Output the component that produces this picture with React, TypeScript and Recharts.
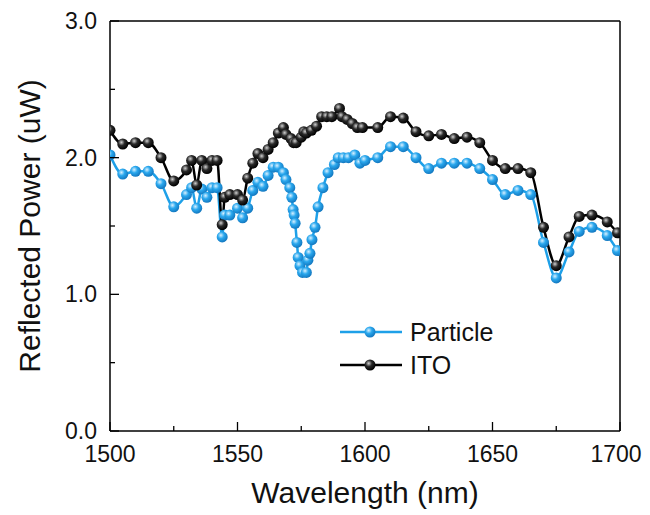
import React from 'react';
import { LineChart, Line, XAxis, YAxis } from 'recharts';

// Particle sample, wavelength (nm) and reflected power (uW)
const particleWl = [
  1500, 1505, 1510, 1515, 1520, 1525, 1530, 1532, 1534, 1536, 1538, 1540, 1542, 1544, 1545, 1547,
  1550, 1552, 1554, 1556, 1558, 1560, 1562, 1564, 1566, 1568, 1569, 1570.5, 1571.3, 1571.8, 1572.2,
  1572.6, 1573.3, 1573.8, 1574.5, 1575.5, 1577, 1577.6, 1578.4, 1579.2, 1580.4, 1581.6, 1583.5,
  1585.5, 1588, 1589.5, 1591.5, 1593.5, 1596, 1598, 1600, 1605, 1610, 1615, 1620, 1625, 1630, 1635,
  1640, 1645, 1650, 1655, 1660, 1665, 1670, 1675, 1680, 1684, 1689, 1695, 1699,
];
const particleVal = [
  2.02, 1.88, 1.9, 1.9, 1.81, 1.64, 1.73, 1.78, 1.63, 1.77, 1.71, 1.78, 1.78, 1.42, 1.58, 1.58,
  1.63, 1.56, 1.63, 1.76, 1.82, 1.79, 1.87, 1.93, 1.93, 1.89, 1.84, 1.78, 1.71, 1.62, 1.58,
  1.52, 1.38, 1.27, 1.21, 1.16, 1.16, 1.25, 1.3, 1.4, 1.49, 1.64, 1.78,
  1.89, 1.95, 2.0, 2.0, 2.0, 2.02, 1.96, 1.98, 2.0, 2.08, 2.08, 2.0, 1.92, 1.96, 1.96,
  1.96, 1.92, 1.84, 1.73, 1.76, 1.73, 1.38, 1.12, 1.31, 1.46, 1.49, 1.43, 1.32,
];

// ITO reference
const itoWl = [
  1500, 1505, 1510, 1515, 1520, 1525, 1530, 1532, 1534, 1536, 1538, 1540, 1542, 1544, 1545, 1547,
  1550, 1552, 1554, 1556, 1558, 1560, 1562, 1564, 1566, 1568, 1569, 1571, 1572, 1573, 1575, 1576,
  1577, 1579, 1581, 1583, 1585, 1587, 1590, 1591, 1593, 1595, 1597, 1599, 1605, 1610, 1615, 1620,
  1625, 1630, 1635, 1640, 1645, 1650, 1655, 1660, 1665, 1670, 1675, 1680, 1684, 1689, 1695, 1699,
];
const itoVal = [
  2.2, 2.1, 2.11, 2.11, 2.0, 1.83, 1.91, 1.98, 1.8, 1.98, 1.92, 1.98, 1.98, 1.51, 1.71, 1.73,
  1.73, 1.69, 1.85, 1.96, 2.03, 2.0, 2.06, 2.11, 2.18, 2.22, 2.17, 2.14, 2.11, 2.11, 2.15, 2.19,
  2.18, 2.2, 2.23, 2.3, 2.3, 2.3, 2.36, 2.3, 2.28, 2.25, 2.22, 2.22, 2.22, 2.3, 2.29, 2.19,
  2.16, 2.17, 2.14, 2.15, 2.11, 1.98, 1.92, 1.92, 1.89, 1.49, 1.21, 1.42, 1.57, 1.58, 1.53, 1.45,
];

const xTicks = [1500, 1525, 1550, 1575, 1600, 1625, 1650, 1675, 1700];
const yTicks = [0, 0.5, 1, 1.5, 2, 2.5, 3];

const particleData = particleWl.map((x, i) => ({ x, y: particleVal[i] }));
const itoData = itoWl.map((x, i) => ({ x, y: itoVal[i] }));

const BLUE = '#1EA0E8';
const FONT = '"Liberation Sans", Arial, sans-serif';

// ticks point inward, major ones longer and labelled
const BottomTick = (props: any) => {
  const { x, y, payload } = props;
  const major = payload.value % 50 === 0;
  // last label nudged left so it stays inside the page
  const nudge = payload.value === 1700 ? -4 : 0;
  return (
    <g>
      <line x1={x} x2={x} y1={y} y2={y - (major ? 9 : 5)} stroke="#000" strokeWidth={1.3} />
      {major && (
        <text x={x + nudge} y={y + 31} textAnchor="middle" fontSize={23} fontFamily={FONT} fill="#111">
          {payload.value}
        </text>
      )}
    </g>
  );
};

const TopTick = (props: any) => {
  const { x, y, payload } = props;
  const major = payload.value % 50 === 0;
  return <line x1={x} x2={x} y1={y} y2={y + (major ? 9 : 5)} stroke="#000" strokeWidth={1.3} />;
};

const LeftTick = (props: any) => {
  const { x, y, payload } = props;
  const major = Number.isInteger(payload.value);
  return (
    <g>
      <line x1={x} x2={x + (major ? 9 : 5)} y1={y} y2={y} stroke="#000" strokeWidth={1.3} />
      {major && (
        <text x={x - 13} y={y + 8} textAnchor="end" fontSize={23} fontFamily={FONT} fill="#111">
          {payload.value.toFixed(1)}
        </text>
      )}
    </g>
  );
};

const RightTick = (props: any) => {
  const { x, y, payload } = props;
  const major = Number.isInteger(payload.value);
  return <line x1={x} x2={x - (major ? 9 : 5)} y1={y} y2={y} stroke="#000" strokeWidth={1.3} />;
};

const legendItems = [
  { name: 'Particle', color: BLUE, fill: 'url(#ballBlue)' },
  { name: 'ITO', color: '#000', fill: 'url(#ballBlack)' },
];

const LegendBox = () => (
  <svg width={180} height={70} style={{ position: 'absolute', left: 322, top: 308 }}>
    {legendItems.map((item, i) => (
      <g key={item.name} transform={`translate(0, ${16 + i * 33})`}>
        <line x1={10} x2={72} y1={0} y2={0} stroke={item.color} strokeWidth={2.5} />
        <circle cx={40} cy={0} r={5.5} fill={item.fill} />
        <text x={80} y={9} fontSize={25} fontFamily={FONT} fill="#111">
          {item.name}
        </text>
      </g>
    ))}
  </svg>
);

export default function App() {
  return (
    <div style={{ position: 'relative', width: 634, height: 507 }}>
      <LineChart width={634} height={507} margin={{ top: 8, right: 12, left: 0, bottom: 0 }}>
        <defs>
          <radialGradient id="ballBlue" cx="38%" cy="35%" r="65%">
            <stop offset="0%" stopColor="#d8f0ff" />
            <stop offset="45%" stopColor="#2aa8ee" />
            <stop offset="100%" stopColor="#1378c0" />
          </radialGradient>
          <radialGradient id="ballBlack" cx="38%" cy="35%" r="65%">
            <stop offset="0%" stopColor="#d0d0d0" />
            <stop offset="45%" stopColor="#2a2a2a" />
            <stop offset="100%" stopColor="#000" />
          </radialGradient>
        </defs>
        <XAxis
          dataKey="x"
          type="number"
          domain={[1500, 1700]}
          ticks={xTicks}
          tick={<BottomTick />}
          tickLine={false}
          tickSize={0}
          tickMargin={0}
          interval={0}
          height={84}
          axisLine={{ stroke: '#000', strokeWidth: 1.5 }}
          allowDataOverflow
          label={{
            value: 'Wavelength (nm)',
            position: 'insideBottom',
            offset: 12,
            fontSize: 30,
            fontFamily: FONT,
            fill: '#111',
          }}
        />
        <XAxis
          xAxisId="top"
          orientation="top"
          type="number"
          domain={[1500, 1700]}
          ticks={xTicks}
          tick={<TopTick />}
          tickLine={false}
          tickSize={0}
          tickMargin={0}
          interval={0}
          height={5}
          axisLine={{ stroke: '#000', strokeWidth: 1.5 }}
        />
        <YAxis
          type="number"
          domain={[0, 3]}
          ticks={yTicks}
          tick={<LeftTick />}
          tickLine={false}
          tickSize={0}
          tickMargin={0}
          interval={0}
          width={102}
          axisLine={{ stroke: '#000', strokeWidth: 1.5 }}
          allowDataOverflow
          label={{
            value: 'Reflected Power (uW)',
            angle: -90,
            position: 'insideLeft',
            offset: 0,
            dx: 21,
            fontSize: 30,
            fontFamily: FONT,
            fill: '#111',
            style: { textAnchor: 'middle' },
          }}
        />
        <YAxis
          yAxisId="right"
          orientation="right"
          type="number"
          domain={[0, 3]}
          ticks={yTicks}
          tick={<RightTick />}
          tickLine={false}
          tickSize={0}
          tickMargin={0}
          interval={0}
          width={10}
          axisLine={{ stroke: '#000', strokeWidth: 1.5 }}
        />
        <Line
          name="Particle"
          data={particleData}
          dataKey="y"
          type="monotone"
          stroke={BLUE}
          strokeWidth={2.5}
          dot={{ r: 5.5, fill: 'url(#ballBlue)', stroke: 'none' }}
          isAnimationActive={false}
        />
        <Line
          name="ITO"
          data={itoData}
          dataKey="y"
          type="monotone"
          stroke="#000"
          strokeWidth={2.5}
          dot={{ r: 5.5, fill: 'url(#ballBlack)', stroke: 'none' }}
          isAnimationActive={false}
        />
      </LineChart>
      <LegendBox />
    </div>
  );
}
